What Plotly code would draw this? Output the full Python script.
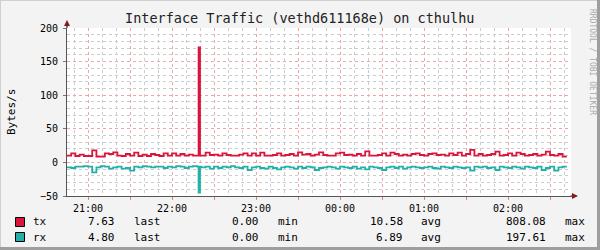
import pandas as pd
import plotly.graph_objects as go

# ---------------- data ----------------
start_time = "2024-01-01 20:45"
step_minutes = 3
tx = [10, 13.5, 9.5, 11.5, 9.5, 9.5, 18, 8.5, 8.5, 13.5, 12.5, 15, 10, 9.5, 12.5, 10, 14.5, 9.5, 11.5, 9.5, 12.5, 11, 9.5, 13.5,
      10, 13.5, 10, 12.5, 10, 11.5, 10, 10, 10, 14.5, 11, 11.5, 10, 13.5, 11, 10, 10, 11.5, 13.5, 10, 13.5, 10, 14.5, 10,
      10, 11, 13.5, 10, 11, 12.5, 10, 15, 11.5, 12.5, 10, 11.5, 15, 11, 10, 10, 13.5, 14.5, 11, 11.5, 10, 12.5, 10, 16.5,
      10, 10, 11, 13.5, 10, 14.5, 12.5, 10, 11.5, 10, 12.5, 13.5, 11, 10, 12.5, 13.5, 11, 11.5, 10, 13.5, 11, 14.5, 10, 12.5,
      18.5, 10, 12.5, 10, 11, 12.5, 16, 10, 11, 13.5, 10, 14.5, 12.5, 10, 11, 12.5, 10, 11.5, 16, 11, 10, 12.5, 8.5, 8.5]
rx = [7.3, 8.3, 6.4, 6.4, 5.4, 6.4, 14.8, 7.3, 5.4, 6.4, 9.3, 7.3, 6.4, 9.3, 8.3, 12.3, 6.4, 7.3, 5.4, 6.4, 7.3, 6.4, 6.4, 8.3,
      6.4, 7.3, 5.4, 6.4, 8.3, 6.4, 5.4, 6.4, 7.3, 6.4, 9.3, 6.4, 8.3, 6.4, 7.3, 5.4, 7.3, 8.3, 6.4, 11.3, 7.3, 6.4, 8.3, 9.3,
      6.4, 8.3, 10.3, 7.3, 6.4, 7.3, 9.3, 6.4, 8.3, 6.4, 7.3, 11.3, 8.3, 7.3, 6.4, 7.3, 9.3, 6.4, 7.3, 8.3, 6.4, 9.3, 7.3, 10.3,
      6.4, 7.3, 8.3, 11.3, 7.3, 6.4, 8.3, 6.4, 9.3, 7.3, 6.4, 7.3, 8.3, 7.3, 6.4, 8.3, 9.3, 6.4, 7.3, 8.3, 6.4, 7.3, 8.3, 7.3,
      12.3, 6.4, 7.3, 6.4, 8.3, 7.3, 11.3, 6.4, 7.3, 8.3, 6.4, 7.3, 9.3, 6.4, 7.3, 8.3, 6.4, 11.3, 8.3, 6.4, 12.3, 7.3, 6.4, 6.4]
# one-minute burst
spike_time = "2024-01-01 22:19"
spike_minutes = 1
spike_tx = 171
spike_rx = 45

series_names = ["tx", "rx"]
stat_labels = ["last", "min", "avg", "max"]
tx_stats = [7.63, 0.00, 10.58, 808.08]
rx_stats = [4.80, 0.00, 6.89, 197.61]
hour_labels = ["21:00", "22:00", "23:00", "00:00", "01:00", "02:00"]
y_ticks = [-50, 0, 50, 100, 150, 200]

# ---------------- style ----------------
TX_COLOR = "#DC143C"
RX_COLOR = "#20B2AA"
FONT = "DejaVu Sans Mono"
L, R, T, B = 67, 571, 28, 196


def px(x):
    return (x - L) / (R - L)


def py(y):
    return (B - y) / (B - T)


times = pd.date_range(start_time, periods=len(tx), freq=f"{step_minutes}min")


def with_spike(values, spike_val):
    s0 = pd.Timestamp(spike_time)
    s1 = s0 + pd.Timedelta(minutes=spike_minutes)
    # value of the regular step that contains the spike
    idx = max(i for i, t in enumerate(times) if t <= s0)
    pts = list(zip(times, values)) + [(s0, spike_val), (s1, values[idx])]
    pts.sort(key=lambda p: p[0])
    return [p[0] for p in pts], [p[1] for p in pts]


tx_t, tx_v = with_spike(tx, spike_tx)
rx_t, rx_v = with_spike(rx, spike_rx)

x_start = pd.Timestamp(start_time)
x_end = x_start + pd.Timedelta(hours=6)
tickvals = pd.date_range("2024-01-01 21:00", periods=2 * len(hour_labels), freq="30min")
ticktext = []
for h in hour_labels:
    ticktext += [h, ""]

fig = go.Figure()
fig.add_trace(go.Scatter(x=tx_t, y=tx_v, mode="lines", line=dict(color=TX_COLOR, width=1.8, shape="hv"),
                         name="tx", hoverinfo="skip"))
fig.add_trace(go.Scatter(x=rx_t, y=[-v for v in rx_v], mode="lines",
                         line=dict(color=RX_COLOR, width=1.8, shape="hv"), name="rx", hoverinfo="skip"))

fig.update_layout(
    width=600, height=250, autosize=False,
    margin=dict(l=L, r=600 - R, t=T, b=250 - B, pad=0),
    paper_bgcolor="#f3f3f3", plot_bgcolor="#ffffff",
    showlegend=False,
    font=dict(family=FONT, size=10, color="#000000"),
)
fig.update_xaxes(
    range=[x_start, x_end], tickmode="array", tickvals=tickvals, ticktext=ticktext,
    showgrid=True, gridcolor="#f2a3a3", griddash="dot", gridwidth=1,
    ticks="outside", ticklen=3, tickcolor="#e08080",
    showline=True, linecolor="#555555", linewidth=1,
    zeroline=False, tickfont=dict(family=FONT, size=10),
    minor=dict(tickmode="linear", tick0="2024-01-01 20:00", dtick=600000, showgrid=True,
               gridcolor="#cccccc", griddash="dot", gridwidth=1),
)
fig.update_yaxes(
    range=[-50, 200], tickmode="array", tickvals=y_ticks,
    showgrid=True, gridcolor="#f2a3a3", griddash="dot", gridwidth=1,
    ticks="outside", ticklen=3, tickcolor="#777777", ticklabelstandoff=3,
    showline=True, linecolor="#555555", linewidth=1,
    zeroline=False, tickfont=dict(family=FONT, size=10),
    minor=dict(tickmode="linear", tick0=0, dtick=10, showgrid=True,
               gridcolor="#cccccc", griddash="dot", gridwidth=1),
)

ann = []
shapes = []
# title
ann.append(dict(text="Interface Traffic (vethd611168e) on cthulhu", x=px(300), y=py(18), xref="paper", yref="paper",
                showarrow=False, font=dict(family=FONT, size=13.5, color="#222222"), xanchor="center", yanchor="middle"))
# y title
ann.append(dict(text="Bytes/s", x=px(11), y=py(112), xref="paper", yref="paper", textangle=-90,
                showarrow=False, font=dict(family=FONT, size=11, color="#000000"), xanchor="center", yanchor="middle"))
# watermark
ann.append(dict(text="RRDTOOL / TOBI OETIKER", x=px(592), y=py(62), xref="paper", yref="paper", textangle=90,
                showarrow=False, font=dict(family=FONT, size=8, color="#aaaaaa"), xanchor="center", yanchor="middle"))
# axis arrows
ann.append(dict(text="", x=px(67), y=py(20), xref="paper", yref="paper", showarrow=True, ax=0, ay=9,
                arrowhead=2, arrowsize=1.2, arrowwidth=1, arrowcolor="#7f1f1f"))
ann.append(dict(text="", x=px(578), y=py(196), xref="paper", yref="paper", showarrow=True, ax=-9, ay=0,
                arrowhead=2, arrowsize=1.2, arrowwidth=1, arrowcolor="#7f1f1f"))
shapes.append(dict(type="line", xref="paper", yref="paper", x0=px(67), x1=px(67), y0=py(28), y1=py(24),
                   line=dict(color="#555555", width=1)))
shapes.append(dict(type="line", xref="paper", yref="paper", x0=px(571), x1=px(574), y0=py(196), y1=py(196),
                   line=dict(color="#555555", width=1)))

# legend rows
row_y = [222, 237]
colors = [TX_COLOR, RX_COLOR]
stats = [tx_stats, rx_stats]
value_right = [117, 261, 405, 548]
label_left = [132, 276, 419, 563]
for name, c, yy, st in zip(series_names, colors, row_y, stats):
    shapes.append(dict(type="rect", xref="paper", yref="paper", x0=px(15.5), x1=px(24.5), y0=py(yy - 4.5), y1=py(yy + 4.5),
                       fillcolor=c, line=dict(color="#000000", width=1)))
    ann.append(dict(text=name, x=px(31), y=py(yy), xref="paper", yref="paper", showarrow=False,
                    xanchor="left", yanchor="middle", font=dict(family=FONT, size=11)))
    for v, lab, xr, xl in zip(st, stat_labels, value_right, label_left):
        ann.append(dict(text=f"{v:.2f}", x=px(xr), y=py(yy), xref="paper", yref="paper", showarrow=False,
                        xanchor="right", yanchor="middle", font=dict(family=FONT, size=11)))
        ann.append(dict(text=lab, x=px(xl), y=py(yy), xref="paper", yref="paper", showarrow=False,
                        xanchor="left", yanchor="middle", font=dict(family=FONT, size=11)))

# frame
shapes.append(dict(type="line", xref="paper", yref="paper", x0=px(0), x1=px(600), y0=py(0.5), y1=py(0.5),
                   line=dict(color="#cfcfcf", width=1)))
shapes.append(dict(type="line", xref="paper", yref="paper", x0=px(0.5), x1=px(0.5), y0=py(0), y1=py(250),
                   line=dict(color="#cfcfcf", width=1)))
shapes.append(dict(type="line", xref="paper", yref="paper", x0=px(0), x1=px(600), y0=py(248.5), y1=py(248.5),
                   line=dict(color="#9e9e9e", width=3)))
shapes.append(dict(type="line", xref="paper", yref="paper", x0=px(598.5), x1=px(598.5), y0=py(0), y1=py(250),
                   line=dict(color="#9e9e9e", width=3)))

fig.update_layout(annotations=ann, shapes=shapes)
fig.write_html("out.html")
